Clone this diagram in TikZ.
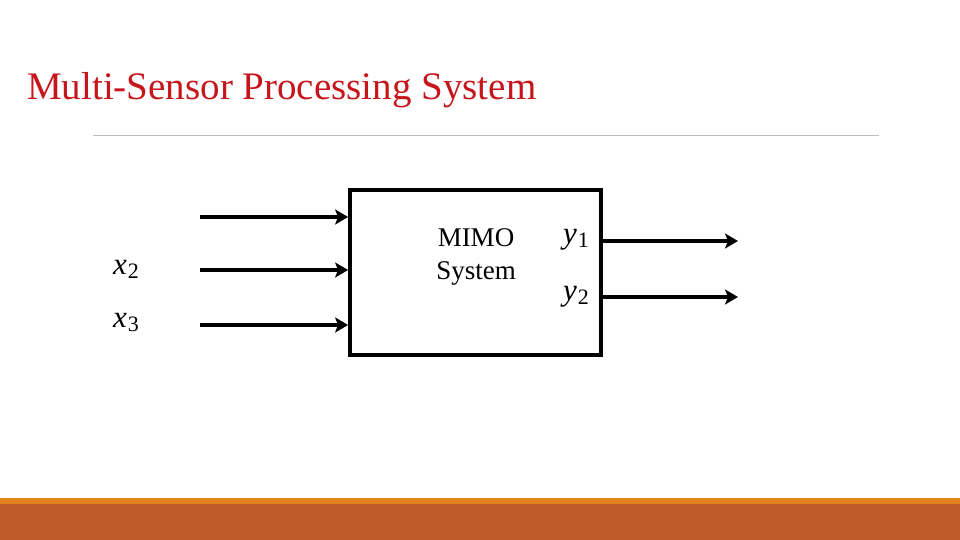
\documentclass[tikz,border=0pt]{standalone}
\usepackage{fontspec}
\setmainfont{Liberation Serif}
\usetikzlibrary{arrows.meta}
\definecolor{titlered}{RGB}{198,22,28}
\definecolor{barorange}{RGB}{226,130,29}
\definecolor{barbrown}{RGB}{190,90,43}
\definecolor{rulegray}{RGB}{190,190,190}
\tikzset{
  sig/.style={line width=3.6pt, -{Stealth[length=13pt,width=15pt,inset=3pt]}},
  lbl/.style={font=\fontsize{31}{32}\selectfont, inner sep=0pt},
}
\newcommand{\sublbl}[2]{\textit{#1}\kern1pt\raisebox{-4pt}{\fontsize{22}{22}\selectfont #2}}
\begin{document}
\begin{tikzpicture}[x=1pt,y=-1pt]
\useasboundingbox (0,0) rectangle (960,540);
\fill[white] (0,0) rectangle (960,540);
% bottom bars
\fill[barorange] (0,497.5) rectangle (960,504);
\fill[barbrown] (0,504) rectangle (960,540);
% title
\node[anchor=base west, inner sep=0pt, text=titlered, font=\fontsize{39}{42}\selectfont] (title) at (27,100) {Multi-Sensor Processing System};
\draw[rulegray, line width=1pt] (93,136) coordinate (r1) -- (879,136) coordinate (r2);
% box
\node[draw, line width=3.8pt, minimum width=251pt, minimum height=165pt, inner sep=0pt] (box) at (475.5,272.5) {};
\node[align=center, font=\fontsize{27}{33}\selectfont, inner sep=0pt] (mimo) at (476,257) {MIMO\\System};
% inputs
\coordinate (i1) at (200,217);
\coordinate (i2) at (200,270);
\coordinate (i3) at (200,325);
\draw[sig] (i1) -- (box.west |- i1);
\draw[sig] (i2) -- (box.west |- i2);
\draw[sig] (i3) -- (box.west |- i3);
\node[lbl] (x2) at (126,269) {\sublbl{x}{2}};
\node[lbl] (x3) at (126,322) {\sublbl{x}{3}};
% outputs
\coordinate (o1) at (738,241);
\coordinate (o2) at (738,297);
\draw[sig] (box.east |- o1) -- (o1);
\draw[sig] (box.east |- o2) -- (o2);
\node[lbl] (y1) at (576,240) {\sublbl{y}{1}};
\node[lbl] (y2) at (576,297) {\sublbl{y}{2}};
\end{tikzpicture}
\end{document}
